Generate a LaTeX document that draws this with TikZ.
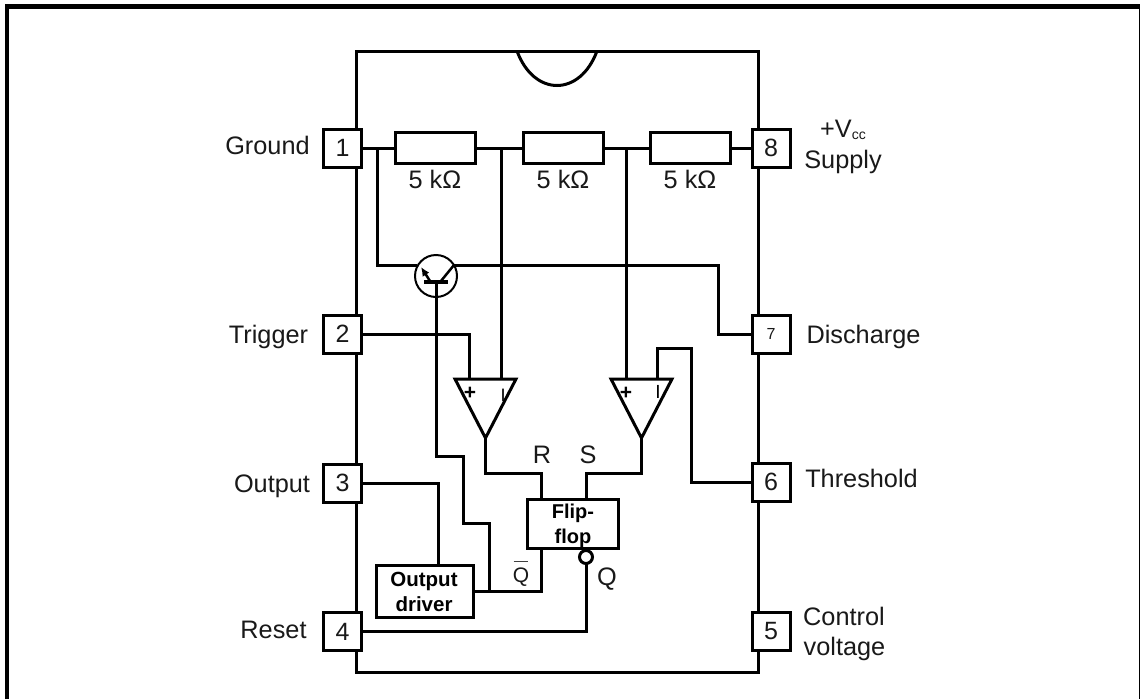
\documentclass[tikz,border=0pt]{standalone}
\usepackage{fontspec}
\usetikzlibrary{arrows.meta}
\setmainfont{Liberation Sans}
\newcommand{\fsz}[1]{\fontsize{#1}{#1}\selectfont}
\tikzset{
  wire/.style={draw=black,line width=3pt},
  pinbox/.style={draw=black,fill=white,line width=3pt,minimum width=38pt,minimum height=38pt,inner sep=0pt,outer sep=0pt,font=\fsz{25},text=black!90},
  resistor/.style={draw=black,fill=white,line width=3pt,minimum width=80pt,minimum height=31pt,inner sep=0pt,outer sep=0pt},
  logicbox/.style={draw=black,fill=white,line width=3pt,inner sep=0pt,outer sep=0pt,align=center},
  lab/.style={anchor=base,inner sep=0pt,outer sep=0pt,font=\fsz{25.3},text=black!90},
  boldlab/.style={anchor=center,inner sep=0pt,outer sep=0pt,font=\fsz{21}\bfseries}
}
\begin{document}
\begin{tikzpicture}[x=1pt,y=-1pt]
\useasboundingbox (0,0) rectangle (1140,699);
\fill[white] (0,0) rectangle (1140,699);
% frame
\coordinate (fa) at (7,699);\coordinate (fb) at (7,4);\coordinate (fc) at (1140,6.5);
\coordinate (fd) at (1139.5,6.5);\coordinate (fe) at (1139.5,699);
\draw[line width=4.5pt] (fa) -- (fb);
\draw[line width=4.5pt] (5,6.5) -- (fc);
\draw[line width=2pt] (fd) -- (fe);
% IC body
\node[draw=black,line width=3pt,minimum width=402pt,minimum height=621pt,inner sep=0pt,outer sep=0pt] (ic) at (557,361.5) {};
\coordinate (na) at (517,51);\coordinate (nb) at (597,51);
\draw[wire] (na) .. controls (534,97) and (580,97) .. (nb);
% pins
\node[pinbox] (p1) at (342.5,148) {1};
\node[pinbox] (p2) at (342.5,334) {2};
\node[pinbox] (p3) at (342.5,483) {3};
\node[pinbox] (p4) at (342.5,631.5) {4};
\node[pinbox] (p8) at (771,148) {8};
\node[pinbox,font=\fsz{16}] (p7) at (771,334) {7};
\node[pinbox] (p6) at (771,482) {6};
\node[pinbox] (p5) at (771,631.5) {5};
% resistors
\node[resistor] (r1) at (435,148) {};
\node[resistor] (r2) at (563,148) {};
\node[resistor] (r3) at (690,148) {};
\node[lab] (rl1) at (435,188) {5 kΩ};
\node[lab] (rl2) at (563,188) {5 kΩ};
\node[lab] (rl3) at (690,188) {5 kΩ};
\draw[wire] (p1.east) -- (r1.west);
\draw[wire] (r1.east) -- (r2.west);
\draw[wire] (r2.east) -- (r3.west);
\draw[wire] (r3.east) -- (p8.west);
\coordinate (j1) at (377,148);\coordinate (j2) at (501,148);\coordinate (j3) at (626,148);
% transistor
\node[circle,draw=black,line width=2pt,minimum size=42pt,inner sep=0pt,outer sep=0pt] (tr) at (436,276) {};
\coordinate (bl) at (424,282);\coordinate (br) at (448,282);\coordinate (bm) at (436,282);
\draw[line width=3.5pt] (bl) -- (br);
\coordinate (et) at (430,281);\coordinate (eh) at (421,267);
\draw[line width=2.5pt,-{Latex[length=9pt,width=8pt]}] (et) -- (eh);
\coordinate (ct) at (441,281);\coordinate (ch) at (454,265);
\draw[line width=2.5pt] (ct) -- (ch);
\coordinate (wl) at (417,265);
\draw[wire] (j1) |- (wl);
\coordinate (k7) at (718.5,265);
\draw[wire] (ch) -- (k7) |- (p7.west);
% comparators
\coordinate (a1) at (455,379);\coordinate (a2) at (516,379);\coordinate (a3) at (485.5,438);
\coordinate (b1) at (611,379);\coordinate (b2) at (672,379);\coordinate (b3) at (641.5,438);
\draw[line width=3pt,line join=miter] (a1) -- (a2) -- (a3) -- cycle;
\draw[line width=3pt,line join=miter] (b1) -- (b2) -- (b3) -- cycle;
\coordinate (ap) at (469.5,379);\coordinate (am) at (501,379);
\coordinate (bp) at (626,379);\coordinate (bm2) at (657,379);
\draw[wire] (p2.east) -| (ap);
\draw[wire] (j2) -- (am);
\draw[wire] (j3) -- (bp);
\coordinate (t1) at (657,348);\coordinate (t2) at (691,348);\coordinate (t3) at (691,482.5);
\draw[wire] (bm2) -- (t1) -- (t2) -- (t3) -- (p6.west |- t3);
\node[boldlab] (ps1) at (470,393) {+};
\node[boldlab] (ps2) at (626,393) {+};
\node[inner sep=0pt,font=\fsz{18}] (ms1) at (503,395) {I};
\node[inner sep=0pt,font=\fsz{19}] (ms2) at (658,392) {I};
% flip-flop and driver
\node[logicbox,minimum width=91pt,minimum height=49pt] (ff) at (572.5,523.5) {};
\node[anchor=base,inner sep=0pt,font=\fsz{20}\bfseries] (ff1) at (573,518) {Flip-};
\node[anchor=base,inner sep=0pt,font=\fsz{20}\bfseries] (ff2) at (573,543) {flop};
\node[logicbox,minimum width=97pt,minimum height=52pt] (od) at (424.5,591) {};
\node[anchor=base,inner sep=0pt,font=\fsz{20.5}\bfseries] (od1) at (424,586) {Output};
\node[anchor=base,inner sep=0pt,font=\fsz{20.5}\bfseries] (od2) at (424,611) {driver};
\coordinate (ro) at (541,473);\coordinate (so) at (586,473);
\draw[wire] (a3) -- (a3 |- ro) -- (ro) -- (ro |- ff.north);
\draw[wire] (b3) -- (b3 |- so) -- (so) -- (so |- ff.north);
\node[lab] (rr) at (542,463) {R};
\node[lab] (ss) at (588,463) {S};
% base wire
\coordinate (n1) at (436,456);\coordinate (n2) at (463,456);\coordinate (n3) at (463,523);
\coordinate (n4) at (489,523);\coordinate (n5) at (489,591);
\draw[wire] (bm) -- (n1) -- (n2) -- (n3) -- (n4) -- (n5);
\coordinate (qb) at (541,591);
\draw[wire] (od.east |- qb) -- (qb) -- (qb |- ff.south);
% output
\coordinate (o3) at (438,565);
\draw[wire] (p3.east) -| (o3);
\node[circle,draw=black,fill=white,line width=3pt,minimum size=13pt,inner sep=0pt,outer sep=0pt] (bub) at (586,557) {};
\draw[wire] (p4.east) -| (bub.south);
\node[lab,font=\fsz{21}] (qn) at (521,582) {Q};
\coordinate (qna) at (513.5,561);\coordinate (qnb) at (527.5,561);
\draw[line width=1pt,black!75] (qna) -- (qnb);
\node[lab] (qq) at (607,585) {Q};
% pin labels
\node[lab] (lg) at (267.5,154) {Ground};
\node[lab] (lt) at (268.5,343) {Trigger};
\node[lab] (lo) at (272,492) {Output};
\node[lab] (lr) at (273.5,638) {Reset};
\node[lab] (lv) at (843,137) {+V\raisebox{-2.5pt}{\fsz{14}cc}};
\node[lab] (ls) at (843,168) {Supply};
\node[lab] (ld) at (863.5,343) {Discharge};
\node[lab] (lh) at (861.5,487) {Threshold};
\node[lab] (lc) at (844,625) {Control};
\node[lab] (lw) at (844.5,655) {voltage};
\end{tikzpicture}
\end{document}
